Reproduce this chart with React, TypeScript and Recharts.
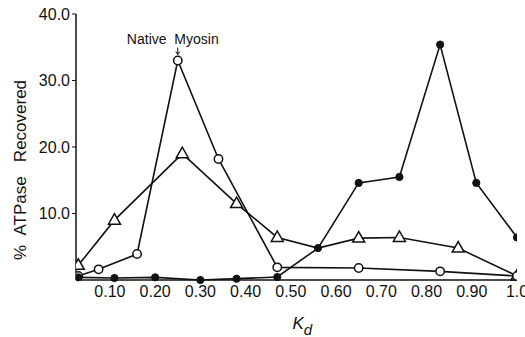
import { LineChart, Line, XAxis, YAxis, ReferenceDot, Label } from 'recharts'

// Kd (partition coefficient) vs % ATPase recovered, three elution profiles
const nativeKd = [0.03, 0.075, 0.16, 0.25, 0.34, 0.47, 0.65, 0.83, 1.0]
const nativeAtp = [0.6, 1.6, 3.9, 33.0, 18.2, 1.9, 1.8, 1.3, 0.6]

const triangleKd = [0.03, 0.11, 0.26, 0.38, 0.47, 0.56, 0.65, 0.74, 0.87, 1.0]
const triangleAtp = [2.2, 9.0, 19.0, 11.5, 6.4, 4.8, 6.3, 6.4, 4.8, 0.6]

const filledKd = [0.03, 0.11, 0.2, 0.3, 0.38, 0.47, 0.56, 0.65, 0.74, 0.83, 0.91, 1.0]
const filledAtp = [0.4, 0.3, 0.4, 0.0, 0.2, 0.45, 4.8, 14.6, 15.5, 35.4, 14.6, 6.4]

const xTicks = [0.1, 0.2, 0.3, 0.4, 0.5, 0.6, 0.7, 0.8, 0.9, 1.0]
const yTicks = [10, 20, 30, 40]

const zip = (xs: number[], ys: number[]) => xs.map((x, i) => ({ x, y: ys[i] }))

const nativeData = zip(nativeKd, nativeAtp)
const triangleData = zip(triangleKd, triangleAtp)
const filledData = zip(filledKd, filledAtp)

const INK = '#111'
const FONT = '"Liberation Sans", Arial, sans-serif'

const OpenDot = (p: any) => (
  <circle key={`o${p.index}`} cx={p.cx} cy={p.cy} r={4.2} fill="#fff" stroke={INK} strokeWidth={1.5} />
)
const FilledDot = (p: any) => (
  <circle key={`f${p.index}`} cx={p.cx} cy={p.cy} r={3.6} fill={INK} stroke={INK} strokeWidth={1} />
)
// the triangle hidden under the filled marker at Kd 0.56 is not drawn
const TriDot = (p: any) =>
  p.payload?.x === 0.56 ? (
    <g key={`t${p.index}`} />
  ) : (
    <path
      key={`t${p.index}`}
      d={`M${p.cx},${p.cy - 6.5} L${p.cx - 6},${p.cy + 4} L${p.cx + 6},${p.cy + 4} Z`}
      fill="#fff"
      stroke={INK}
      strokeWidth={1.5}
    />
  )

const NativeNote = (p: any) => (
  <g>
    <text x={p.cx - 5} y={p.cy - 17} textAnchor="middle" fontSize={14} fontFamily={FONT} fill={INK}>
      {'Native\u00A0\u00A0Myosin'}
    </text>
    <path d={`M${p.cx},${p.cy - 13} L${p.cx},${p.cy - 6}`} stroke={INK} strokeWidth={1} />
    <path d={`M${p.cx - 2},${p.cy - 9} L${p.cx},${p.cy - 6} L${p.cx + 2},${p.cy - 9}`} stroke={INK} strokeWidth={1} fill="none" />
  </g>
)

export default function App() {
  const tickStyle = { fill: INK, fontSize: 16, fontFamily: FONT }
  return (
    <div style={{ position: 'absolute', left: 0, top: 0, background: '#fff' }}>
      <LineChart width={525} height={337} margin={{ top: 14, right: 8, bottom: 27, left: 0 }}>
        <XAxis
          type="number"
          dataKey="x"
          domain={[0.025, 1.0]}
          ticks={xTicks}
          interval={0}
          allowDataOverflow
          tickFormatter={(v: number) => (v === 1 ? '1.0' : v.toFixed(2))}
          tick={tickStyle}
          tickLine={false}
          tickSize={4}
          tickMargin={2}
          height={30}
          axisLine={{ stroke: INK, strokeWidth: 1.5 }}
        >
          <Label
            content={(props: any) => {
              const vb = props.viewBox
              const x = vb.x + vb.width / 2 - 4
              return (
                <text x={x} y={329} fontFamily={FONT} fontStyle="italic" fontSize={17} fill={INK}>
                  K
                  <tspan dy={6} fontSize={15}>d</tspan>
                </text>
              )
            }}
          />
        </XAxis>
        <YAxis
          type="number"
          domain={[0, 40]}
          ticks={yTicks}
          interval={0}
          tickFormatter={(v: number) => v.toFixed(1)}
          tick={tickStyle}
          tickSize={4}
          tickMargin={2}
          tickLine={{ stroke: INK }}
          width={76}
          axisLine={{ stroke: INK, strokeWidth: 1.5 }}
        >
          <Label
            content={(props: any) => {
              const vb = props.viewBox
              const cx = vb.x + 20
              const cy = vb.y + vb.height / 2 + 23
              return (
                <text
                  x={cx}
                  y={cy}
                  transform={`rotate(-90 ${cx} ${cy})`}
                  textAnchor="middle"
                  dominantBaseline="central"
                  fontFamily={FONT}
                  fontSize={17}
                  fill={INK}
                >
                  {'%\u00A0\u00A0ATPase\u00A0\u00A0\u00A0Recovered'}
                </text>
              )
            }}
          />
        </YAxis>
        <Line data={triangleData} dataKey="y" stroke={INK} strokeWidth={1.6} dot={TriDot} isAnimationActive={false} />
        <Line data={nativeData} dataKey="y" stroke={INK} strokeWidth={1.6} dot={OpenDot} isAnimationActive={false} />
        <Line data={filledData} dataKey="y" stroke={INK} strokeWidth={1.6} dot={FilledDot} isAnimationActive={false} />
        <ReferenceDot x={0.25} y={33.0} r={0} ifOverflow="visible" shape={NativeNote} />
      </LineChart>
    </div>
  )
}
